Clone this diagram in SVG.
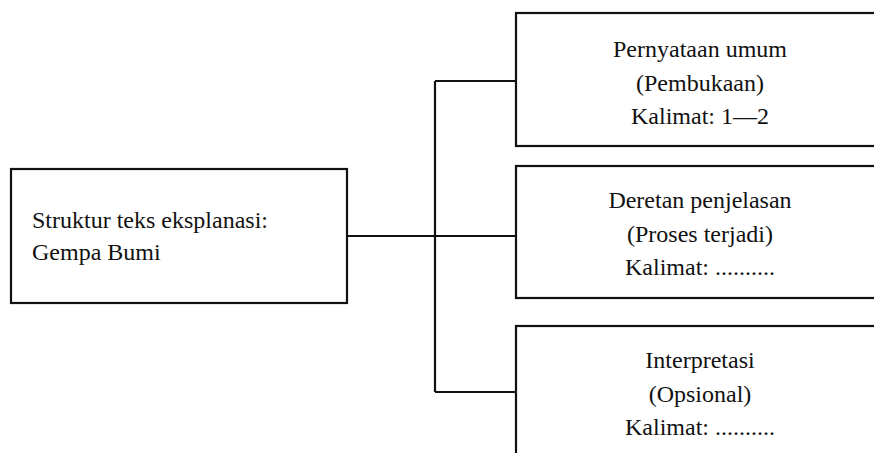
<svg xmlns="http://www.w3.org/2000/svg" width="874" height="453" viewBox="0 0 874 453">
<style>
.box{fill:#fff;stroke:#111;stroke-width:2.2}
text{font-family:'Liberation Serif','DejaVu Serif',serif;font-size:24px;fill:#111}
.c{text-anchor:middle}
.conn{fill:none;stroke:#111;stroke-width:2.2}
</style>
<rect width="874" height="453" fill="#fff"/>
<g id="connectors">
<path class="conn" d="M347 236 H516 M435 81 V392 M435 81 H516 M435 392 H516"/>
</g>
<g id="root">
<rect class="box" x="11" y="169" width="336" height="134"/>
<text x="32" y="228">Struktur teks eksplanasi:</text>
<text x="32" y="260">Gempa Bumi</text>
</g>
<g id="n1">
<rect class="box" x="516" y="13" width="380" height="133"/>
<text class="c" x="700" y="57">Pernyataan umum</text>
<text class="c" x="700" y="91">(Pembukaan)</text>
<text class="c" x="700" y="124">Kalimat: 1—2</text>
</g>
<g id="n2">
<rect class="box" x="516" y="166" width="380" height="132"/>
<text class="c" x="700" y="208">Deretan penjelasan</text>
<text class="c" x="700" y="242">(Proses terjadi)</text>
<text class="c" x="700" y="275">Kalimat: ..........</text>
</g>
<g id="n3">
<rect class="box" x="516" y="326" width="380" height="160"/>
<text class="c" x="700" y="368">Interpretasi</text>
<text class="c" x="700" y="402">(Opsional)</text>
<text class="c" x="700" y="435">Kalimat: ..........</text>
</g>
</svg>
